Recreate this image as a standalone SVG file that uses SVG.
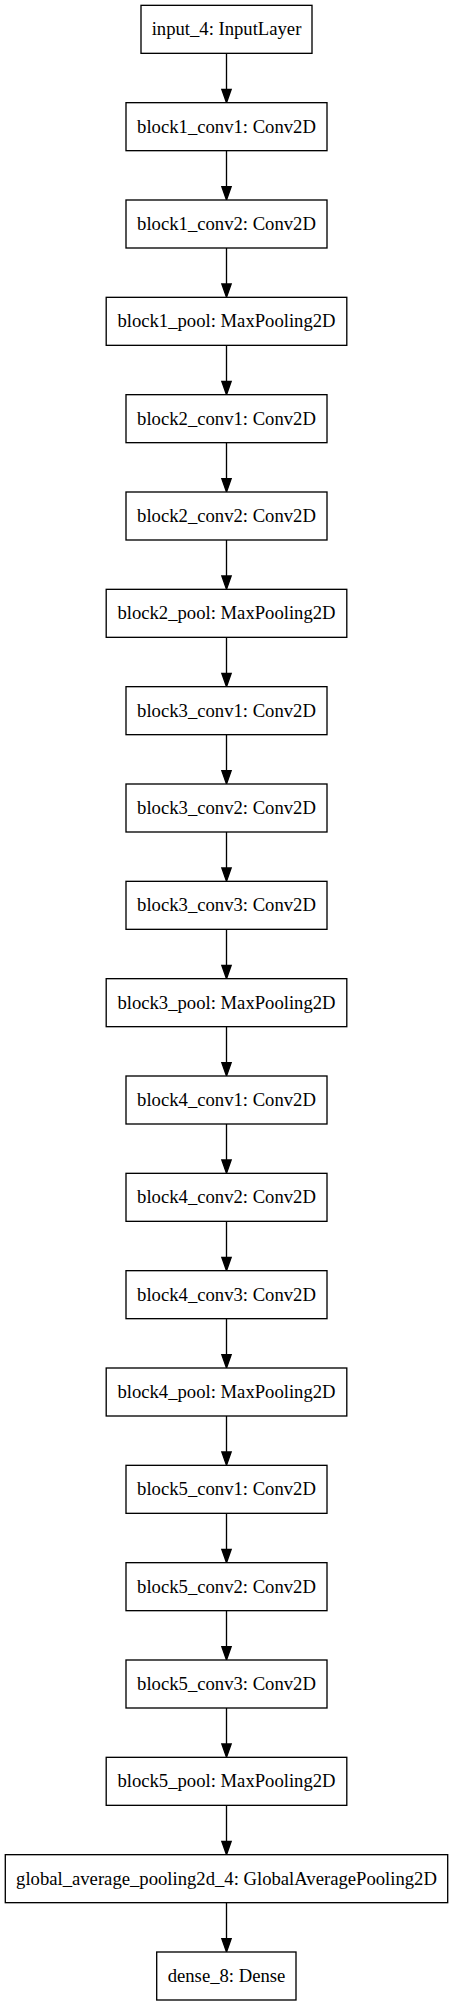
<svg xmlns="http://www.w3.org/2000/svg" width="453" height="2007" viewBox="0 0 453 2007">
<style>
.box{fill:#fff;stroke:#000;stroke-width:1.33}
.lbl{font-family:"Liberation Serif","Times New Roman",serif;font-size:18.67px;text-anchor:middle;fill:#000}
.edge{stroke:#000;stroke-width:1.33;fill:none}
.head{fill:#000;stroke:#000;stroke-width:1.33}
</style>
<rect width="453" height="2007" fill="#fff"/>
<g id="connectors">
<g transform="translate(226.5,53.33)"><line class="edge" x1="0" y1="0" x2="0" y2="36"/><polygon class="head" points="-4.67,36 4.67,36 0,49.33"/></g>
<g transform="translate(226.5,150.67)"><line class="edge" x1="0" y1="0" x2="0" y2="36"/><polygon class="head" points="-4.67,36 4.67,36 0,49.33"/></g>
<g transform="translate(226.5,248)"><line class="edge" x1="0" y1="0" x2="0" y2="36"/><polygon class="head" points="-4.67,36 4.67,36 0,49.33"/></g>
<g transform="translate(226.5,345.33)"><line class="edge" x1="0" y1="0" x2="0" y2="36"/><polygon class="head" points="-4.67,36 4.67,36 0,49.33"/></g>
<g transform="translate(226.5,442.67)"><line class="edge" x1="0" y1="0" x2="0" y2="36"/><polygon class="head" points="-4.67,36 4.67,36 0,49.33"/></g>
<g transform="translate(226.5,540)"><line class="edge" x1="0" y1="0" x2="0" y2="36"/><polygon class="head" points="-4.67,36 4.67,36 0,49.33"/></g>
<g transform="translate(226.5,637.33)"><line class="edge" x1="0" y1="0" x2="0" y2="36"/><polygon class="head" points="-4.67,36 4.67,36 0,49.33"/></g>
<g transform="translate(226.5,734.67)"><line class="edge" x1="0" y1="0" x2="0" y2="36"/><polygon class="head" points="-4.67,36 4.67,36 0,49.33"/></g>
<g transform="translate(226.5,832)"><line class="edge" x1="0" y1="0" x2="0" y2="36"/><polygon class="head" points="-4.67,36 4.67,36 0,49.33"/></g>
<g transform="translate(226.5,929.33)"><line class="edge" x1="0" y1="0" x2="0" y2="36"/><polygon class="head" points="-4.67,36 4.67,36 0,49.33"/></g>
<g transform="translate(226.5,1026.67)"><line class="edge" x1="0" y1="0" x2="0" y2="36"/><polygon class="head" points="-4.67,36 4.67,36 0,49.33"/></g>
<g transform="translate(226.5,1124)"><line class="edge" x1="0" y1="0" x2="0" y2="36"/><polygon class="head" points="-4.67,36 4.67,36 0,49.33"/></g>
<g transform="translate(226.5,1221.33)"><line class="edge" x1="0" y1="0" x2="0" y2="36"/><polygon class="head" points="-4.67,36 4.67,36 0,49.33"/></g>
<g transform="translate(226.5,1318.67)"><line class="edge" x1="0" y1="0" x2="0" y2="36"/><polygon class="head" points="-4.67,36 4.67,36 0,49.33"/></g>
<g transform="translate(226.5,1416)"><line class="edge" x1="0" y1="0" x2="0" y2="36"/><polygon class="head" points="-4.67,36 4.67,36 0,49.33"/></g>
<g transform="translate(226.5,1513.33)"><line class="edge" x1="0" y1="0" x2="0" y2="36"/><polygon class="head" points="-4.67,36 4.67,36 0,49.33"/></g>
<g transform="translate(226.5,1610.67)"><line class="edge" x1="0" y1="0" x2="0" y2="36"/><polygon class="head" points="-4.67,36 4.67,36 0,49.33"/></g>
<g transform="translate(226.5,1708)"><line class="edge" x1="0" y1="0" x2="0" y2="36"/><polygon class="head" points="-4.67,36 4.67,36 0,49.33"/></g>
<g transform="translate(226.5,1805.33)"><line class="edge" x1="0" y1="0" x2="0" y2="36"/><polygon class="head" points="-4.67,36 4.67,36 0,49.33"/></g>
<g transform="translate(226.5,1902.67)"><line class="edge" x1="0" y1="0" x2="0" y2="36"/><polygon class="head" points="-4.67,36 4.67,36 0,49.33"/></g>
</g>
<g id="input_4" transform="translate(0,5.33)"><rect class="box" x="141" y="0" width="171" height="48"/><text class="lbl" x="226.5" y="30">input_4: InputLayer</text></g>
<g id="block1_conv1" transform="translate(0,102.67)"><rect class="box" x="126" y="0" width="201" height="48"/><text class="lbl" x="226.5" y="30">block1_conv1: Conv2D</text></g>
<g id="block1_conv2" transform="translate(0,200)"><rect class="box" x="126" y="0" width="201" height="48"/><text class="lbl" x="226.5" y="30">block1_conv2: Conv2D</text></g>
<g id="block1_pool" transform="translate(0,297.33)"><rect class="box" x="106.2" y="0" width="240.6" height="48"/><text class="lbl" x="226.5" y="30">block1_pool: MaxPooling2D</text></g>
<g id="block2_conv1" transform="translate(0,394.67)"><rect class="box" x="126" y="0" width="201" height="48"/><text class="lbl" x="226.5" y="30">block2_conv1: Conv2D</text></g>
<g id="block2_conv2" transform="translate(0,492)"><rect class="box" x="126" y="0" width="201" height="48"/><text class="lbl" x="226.5" y="30">block2_conv2: Conv2D</text></g>
<g id="block2_pool" transform="translate(0,589.33)"><rect class="box" x="106.2" y="0" width="240.6" height="48"/><text class="lbl" x="226.5" y="30">block2_pool: MaxPooling2D</text></g>
<g id="block3_conv1" transform="translate(0,686.67)"><rect class="box" x="126" y="0" width="201" height="48"/><text class="lbl" x="226.5" y="30">block3_conv1: Conv2D</text></g>
<g id="block3_conv2" transform="translate(0,784)"><rect class="box" x="126" y="0" width="201" height="48"/><text class="lbl" x="226.5" y="30">block3_conv2: Conv2D</text></g>
<g id="block3_conv3" transform="translate(0,881.33)"><rect class="box" x="126" y="0" width="201" height="48"/><text class="lbl" x="226.5" y="30">block3_conv3: Conv2D</text></g>
<g id="block3_pool" transform="translate(0,978.67)"><rect class="box" x="106.2" y="0" width="240.6" height="48"/><text class="lbl" x="226.5" y="30">block3_pool: MaxPooling2D</text></g>
<g id="block4_conv1" transform="translate(0,1076)"><rect class="box" x="126" y="0" width="201" height="48"/><text class="lbl" x="226.5" y="30">block4_conv1: Conv2D</text></g>
<g id="block4_conv2" transform="translate(0,1173.33)"><rect class="box" x="126" y="0" width="201" height="48"/><text class="lbl" x="226.5" y="30">block4_conv2: Conv2D</text></g>
<g id="block4_conv3" transform="translate(0,1270.67)"><rect class="box" x="126" y="0" width="201" height="48"/><text class="lbl" x="226.5" y="30">block4_conv3: Conv2D</text></g>
<g id="block4_pool" transform="translate(0,1368)"><rect class="box" x="106.2" y="0" width="240.6" height="48"/><text class="lbl" x="226.5" y="30">block4_pool: MaxPooling2D</text></g>
<g id="block5_conv1" transform="translate(0,1465.33)"><rect class="box" x="126" y="0" width="201" height="48"/><text class="lbl" x="226.5" y="30">block5_conv1: Conv2D</text></g>
<g id="block5_conv2" transform="translate(0,1562.67)"><rect class="box" x="126" y="0" width="201" height="48"/><text class="lbl" x="226.5" y="30">block5_conv2: Conv2D</text></g>
<g id="block5_conv3" transform="translate(0,1660)"><rect class="box" x="126" y="0" width="201" height="48"/><text class="lbl" x="226.5" y="30">block5_conv3: Conv2D</text></g>
<g id="block5_pool" transform="translate(0,1757.33)"><rect class="box" x="106.2" y="0" width="240.6" height="48"/><text class="lbl" x="226.5" y="30">block5_pool: MaxPooling2D</text></g>
<g id="global_average_pooling2d_4" transform="translate(0,1854.67)"><rect class="box" x="5.3" y="0" width="442.4" height="48"/><text class="lbl" x="226.5" y="30">global_average_pooling2d_4: GlobalAveragePooling2D</text></g>
<g id="dense_8" transform="translate(0,1952)"><rect class="box" x="156.7" y="0" width="139.3" height="48"/><text class="lbl" x="226.5" y="30">dense_8: Dense</text></g>
</svg>
